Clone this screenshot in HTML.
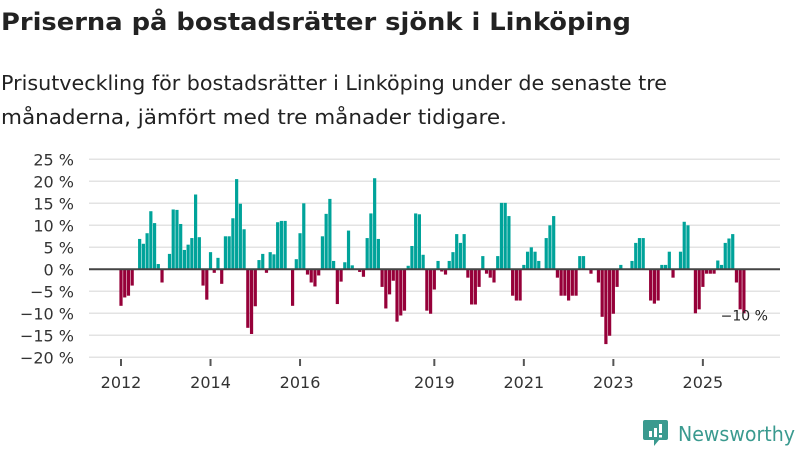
<!DOCTYPE html>
<html><head><meta charset="utf-8"><style>
body{margin:0;width:800px;height:450px;background:#fff;overflow:hidden;font-family:"DejaVu Sans","Liberation Sans",sans-serif;}
svg{position:absolute;left:0;top:0;}
</style></head><body>
<svg width="800" height="140">
<text x="1" y="30" font-size="24" font-weight="bold" fill="#222" textLength="630" lengthAdjust="spacingAndGlyphs" font-family="DejaVu Sans, Liberation Sans, sans-serif">Priserna på bostadsrätter sjönk i Linköping</text>
<text x="1" y="90" font-size="20" fill="#222" textLength="666" lengthAdjust="spacingAndGlyphs" font-family="DejaVu Sans, Liberation Sans, sans-serif">Prisutveckling för bostadsrätter i Linköping under de senaste tre</text>
<text x="1" y="124" font-size="20" fill="#222" textLength="506" lengthAdjust="spacingAndGlyphs" font-family="DejaVu Sans, Liberation Sans, sans-serif">månaderna, jämfört med tre månader tidigare.</text>
</svg>
<svg id="chart" width="800" height="450"></svg>
<script>
const values=[-8.3,-6.4,-6,-3.7,0,6.9,5.8,8.2,13.2,10.5,1.2,-3,0,3.5,13.6,13.5,10.3,4.4,5.6,7.1,17,7.3,-3.7,-6.9,
3.9,-0.8,2.6,-3.3,7.5,7.5,11.6,20.5,14.9,9.1,-13.3,-14.7,-8.4,2.1,3.5,-0.8,3.9,3.4,10.7,11,11,0,-8.3,2.3,
8.2,15,-1.2,-3,-3.9,-1.4,7.5,12.6,16,1.9,-7.9,-2.8,1.6,8.8,0.9,0,-0.6,-1.7,7.1,12.7,20.7,6.9,-4,-8.9,
-5.7,-2.6,-11.9,-10.5,-9.4,0.8,5.3,12.7,12.5,3.3,-9.4,-10.1,-4.6,1.9,-0.5,-1.2,1.9,3.9,8,6,8,-1.9,-8,-8,
-4,3,-1,-1.9,-3,3,15.1,15.1,12.1,-6,-7.1,-7.1,1,4,5,4,1.9,0,7.1,10,12.1,-1.9,-6,-6,-7.1,-6,-6,3,3,0,
-1,0,-3,-10.8,-17,-15.1,-10.1,-4,1,0,0,1.9,6,7.1,7.1,0,-7.1,-7.8,-7.1,1,1,4,-1.9,0,4,10.8,10,0,
-10,-9.1,-4,-1,-1,-1,2,1,6,7,8,-3,-9.1,-10];
const startYear=2012;
const yTicks=[25,20,15,10,5,0,-5,-10,-15,-20];
const yearLabels=[2012,2014,2016,2019,2021,2023,2025];
const lastLabel="−10 %";
const svg=document.getElementById('chart');
const NS='http://www.w3.org/2000/svg';
const X0=121,STEP=3.73,Y0=269.3,PX=4.4;
function x(i){return X0+i*STEP;}
function y(v){return Y0-v*PX;}
function mk(t,a){const e=document.createElementNS(NS,t);for(const k in a)e.setAttribute(k,a[k]);svg.appendChild(e);return e;}
yTicks.forEach(v=>{
 const g=mk('line',{x1:89,x2:780,y1:y(v),y2:y(v),stroke:'#e3e3e3','stroke-width':1.5});
 
 
 const t=mk('text',{x:74,y:y(v)+6,'text-anchor':'end','font-size':16,fill:'#333'});
 t.textContent=(v<0?'−'+(-v):v)+' %';
 
 
});
values.forEach((v,i)=>{
 if(v===0)return;
 const r=mk('rect',{x:x(i)-1.6,width:3.2,y:Math.min(y(v),Y0),height:Math.abs(v*PX),fill:v>0?'#00a39a':'#960039'});
 
 
});
const z=mk('line',{x1:89,x2:780,y1:Y0,y2:Y0,stroke:'#444','stroke-width':2});


yearLabels.forEach(yr=>{
 const xi=x((yr-startYear)*12);
 const tk=mk('line',{x1:xi,x2:xi,y1:359,y2:366,stroke:'#555','stroke-width':2});
 
 
 const t=mk('text',{x:xi,y:388,'text-anchor':'middle','font-size':16,fill:'#333'});
 t.textContent=yr;
 
 
});
const ll=mk('text',{x:x(values.length-1)+24,y:y(values[values.length-1])+7,'text-anchor':'end','font-size':14,fill:'#222'});
ll.textContent=lastLabel;


</script>
<svg width="160" height="40" style="left:640px;top:415px">
<path d="M5 5 h21 a2 2 0 0 1 2 2 v16 a2 2 0 0 1 -2 2 h-7 l-5 6 l0 -6 h-9 a2 2 0 0 1 -2 -2 v-16 a2 2 0 0 1 2 -2z" fill="#3a9a8f"/>
<rect x="9" y="16" width="3" height="6" fill="#fff"/><rect x="14" y="13" width="3" height="9" fill="#fff"/><rect x="19" y="9" width="3" height="9" fill="#fff"/><rect x="19" y="20" width="3" height="2.5" fill="#fff"/>
<text x="38" y="26" font-size="20" fill="#3a9a8f" textLength="117" lengthAdjust="spacingAndGlyphs" font-family="DejaVu Sans, Liberation Sans, sans-serif">Newsworthy</text>
</svg>
</body></html>
